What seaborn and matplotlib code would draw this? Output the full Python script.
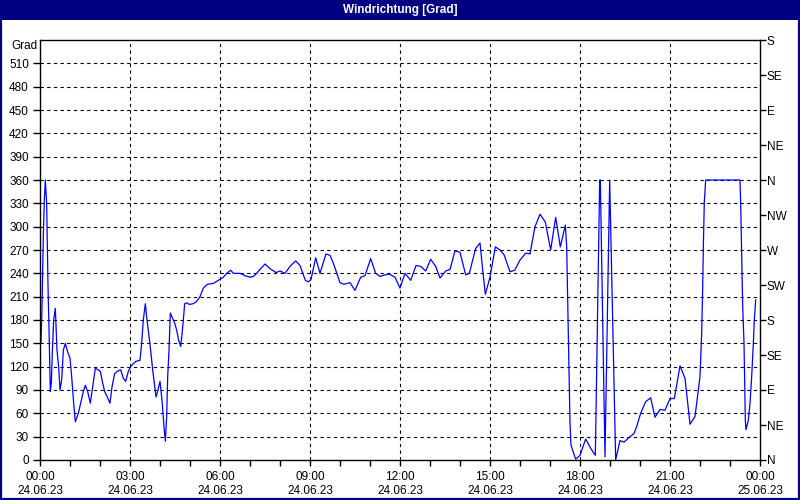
import matplotlib
matplotlib.use("Agg")
import matplotlib.pyplot as plt
from matplotlib.patches import Rectangle
import seaborn as sns
import pandas as pd

# ---- data (hours since 24.06.23 00:00, wind direction in degrees) ----
hours = [
    0.033, 0.067, 0.089, 0.111, 0.144, 0.178, 0.222, 0.244, 0.267, 0.300,
    0.344, 0.378, 0.411, 0.456, 0.511, 0.567, 0.622, 0.667, 0.722, 0.778,
    0.844, 0.922, 1.000, 1.056, 1.122, 1.178, 1.278, 1.356, 1.444, 1.511,
    1.589, 1.678, 1.756, 1.844, 1.933, 2.011, 2.089, 2.156, 2.244, 2.333,
    2.400, 2.489, 2.578, 2.689, 2.778, 2.856, 2.944, 3.022, 3.111, 3.200,
    3.333, 3.389, 3.444, 3.511, 3.556, 3.622, 3.689, 3.756, 3.811, 3.867,
    3.933, 4.000, 4.067, 4.133, 4.178, 4.222, 4.256, 4.300, 4.344, 4.422,
    4.489, 4.556, 4.622, 4.689, 4.733, 4.778, 4.822, 4.889, 4.978, 5.111,
    5.222, 5.333, 5.444, 5.578, 5.778, 5.944, 6.111, 6.222, 6.356, 6.444,
    6.667, 6.833, 7.000, 7.111, 7.222, 7.356, 7.500, 7.667, 7.867, 8.000,
    8.167, 8.333, 8.522, 8.667, 8.844, 8.944, 9.033, 9.190, 9.333, 9.533,
    9.667, 9.778, 10.000, 10.133, 10.333, 10.500, 10.689, 10.833, 11.022, 11.189,
    11.333, 11.500, 11.644, 11.833, 12.000, 12.167, 12.356, 12.533, 12.689, 12.856,
    13.022, 13.189, 13.333, 13.522, 13.667, 13.833, 14.000, 14.189, 14.311, 14.522,
    14.667, 14.744, 14.844, 15.000, 15.178, 15.333, 15.467, 15.667, 15.822, 16.000,
    16.189, 16.333, 16.500, 16.667, 16.844, 17.022, 17.189, 17.344, 17.511, 17.556,
    17.611, 17.667, 17.700, 17.856, 18.000, 18.189, 18.356, 18.511, 18.656, 18.678,
    18.833, 18.989, 19.189, 19.333, 19.467, 19.667, 19.800, 19.889, 20.022, 20.189,
    20.356, 20.500, 20.667, 20.833, 21.000, 21.144, 21.333, 21.500, 21.667, 21.833,
    22.000, 22.056, 22.089, 22.111, 22.144, 22.189, 23.333, 23.356, 23.389, 23.422,
    23.467, 23.511, 23.533, 23.611, 23.667, 23.722, 23.778, 23.811, 23.856,
]
degrees = [
    150, 197, 244, 289, 334, 360, 330, 279, 223, 169,
    88, 99, 139, 180, 195, 141, 120, 90, 103, 141,
    150, 139, 131, 107, 73, 49, 60, 73, 88, 96,
    88, 73, 94, 118, 116, 114, 99, 88, 81, 73,
    94, 111, 114, 116, 105, 101, 114, 120, 124, 127,
    128, 150, 180, 201, 184, 163, 141, 116, 99, 81,
    90, 101, 77, 43, 24, 56, 107, 141, 189, 182,
    176, 167, 154, 146, 161, 180, 201, 202, 200, 201,
    204, 210, 221, 226, 227, 231, 235, 240, 244, 240,
    240, 237, 235, 236, 240, 246, 252, 246, 241, 243,
    240, 249, 256, 250, 231, 229, 232, 260, 240, 265,
    263, 253, 228, 226, 228, 218, 235, 237, 259, 240,
    236, 238, 239, 235, 221, 240, 231, 250, 249, 243,
    258, 249, 234, 243, 245, 269, 267, 238, 240, 272,
    279, 249, 213, 235, 274, 270, 264, 242, 244, 257,
    266, 265, 300, 316, 306, 270, 312, 274, 302, 274,
    160, 47, 19, 1, 6, 27, 15, 6, 360, 360,
    4, 360, 0, 25, 23, 30, 34, 43, 60, 75,
    80, 55, 65, 64, 79, 79, 121, 105, 46, 56,
    107, 163, 221, 274, 332, 360, 360, 330, 261, 199,
    150, 51, 39, 51, 73, 107, 150, 180, 206,
]

left_ticks = list(range(0, 540, 30))
right_ticks = list(range(0, 541, 45))
right_labels = ["N", "NE", "E", "SE", "S", "SW", "W", "NW", "N", "NE", "E", "SE", "S"]
x_ticks = [0, 3, 6, 9, 12, 15, 18, 21, 24]
x_labels = ["00:00\n24.06.23", "03:00\n24.06.23", "06:00\n24.06.23", "09:00\n24.06.23",
            "12:00\n24.06.23", "15:00\n24.06.23", "18:00\n24.06.23", "21:00\n24.06.23",
            "00:00\n25.06.23"]
title = "Windrichtung [Grad]"

df = pd.DataFrame({"hour": hours, "deg": degrees})

sns.set_style("white")
plt.rcParams["font.family"] = ["Liberation Sans Narrow", "Liberation Sans", "DejaVu Sans"]
plt.rcParams["text.color"] = "black"
plt.rcParams["xtick.color"] = "black"
plt.rcParams["ytick.color"] = "black"

navy = "#000080"
fig = plt.figure(figsize=(8, 5), dpi=100)
fig.patch.set_facecolor("white")
ax = fig.add_axes([40 / 800, 40 / 500, 720 / 800, 420 / 500])

sns.lineplot(data=df, x="hour", y="deg", ax=ax, color="#0000FF", linewidth=0.9,
             estimator=None, sort=False)

ax.set_xlim(0, 24)
ax.set_ylim(0, 540)
ax.set_xlabel("")
ax.set_ylabel("")
ax.set_facecolor("white")

for s in ax.spines.values():
    s.set_color("black")
    s.set_linewidth(1.0)
    s.set_visible(True)

ax.set_yticks(left_ticks)
ax.set_yticklabels([str(v) for v in left_ticks])
ax.set_xticks(x_ticks)
ax.set_xticklabels(x_labels, linespacing=1.25)
ax.set_xticks(list(range(0, 25)), minor=True)
ax.tick_params(axis="y", which="major", direction="out", length=5, width=1,
               color="black", labelcolor="black", labelsize=8.5, pad=3, left=True)
ax.tick_params(axis="x", which="both", direction="out", length=4, width=1,
               color="black", labelcolor="black", labelsize=8.5, pad=4, bottom=True)

for v in range(30, 540, 30):
    ax.axhline(v, color="black", lw=0.8, ls=(0, (3, 3)), zorder=0.5)
for h in range(3, 24, 3):
    ax.axvline(h, color="black", lw=0.8, ls=(0, (3, 3)), zorder=0.5)

ax2 = ax.twinx()
ax2.set_ylim(0, 540)
ax2.set_yticks(right_ticks)
ax2.set_yticklabels(right_labels)
ax2.tick_params(axis="y", direction="out", length=4, width=1, color="black",
                labelcolor="black", labelsize=8.5, pad=1, right=True)
for s in ax2.spines.values():
    s.set_visible(False)

ax.text(-0.003, 532, "Grad", transform=ax.get_yaxis_transform(), ha="right",
        va="center", fontsize=8.5, color="black")

# title bar and border
fig.patches.append(Rectangle((0, 480 / 500), 1, 20 / 500, transform=fig.transFigure,
                             facecolor=navy, edgecolor="none", zorder=0))
fig.patches.append(Rectangle((0.001, 0.002), 0.9975, 0.996, transform=fig.transFigure,
                             facecolor="none", edgecolor=navy, linewidth=1.6, zorder=5))
fig.text(0.5, 490 / 500, title, color="white", fontsize=8.5, fontweight="bold",
         ha="center", va="center")

fig.savefig("out.png", dpi=100, facecolor="white")
